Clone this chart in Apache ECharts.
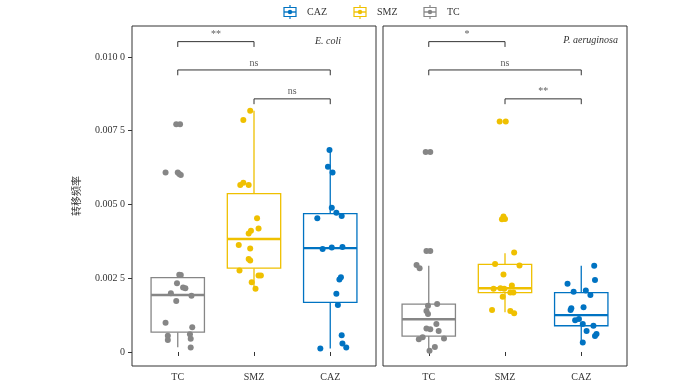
<!DOCTYPE html>
<html><head><meta charset="utf-8">
<script src="https://cdn.jsdelivr.net/npm/echarts@6/dist/echarts.min.js"></script>
<style>html,body{margin:0;padding:0;background:#fff}#c{width:700px;height:383px}</style>
</head><body><div id="c"></div>
<script>
// ---------- data ----------
const groups = ['TC', 'SMZ', 'CAZ'];
const legendOrder = ['CAZ', 'SMZ', 'TC'];
const colors = { TC: '#868686', SMZ: '#EFC000', CAZ: '#0073C2' };
const panelTitles = ['E. coli', 'P. aeruginosa'];
const yTicks = [0, 0.0025, 0.005, 0.0075, 0.01];
const yTickLabels = ['0', '0.002 5', '0.005 0', '0.007 5', '0.010 0'];
const yTitle = '转移频率';

// E. coli – point values and horizontal jitter (category units)
const ecoliTC = [0.00772, 0.00772, 0.00608, 0.00608, 0.00600, 0.00603, 0.00261, 0.00262, 0.00233, 0.00219, 0.00216, 0.00199, 0.00191, 0.00173, 0.00099, 0.00084, 0.00055, 0.00041, 0.00060, 0.00045, 0.00015];
const ecoliTCJit = [-0.02, 0.03, -0.16, 0.0, 0.04, 0.02, 0.04, 0.02, -0.01, 0.07, 0.10, -0.09, 0.18, -0.02, -0.16, 0.19, -0.13, -0.13, 0.16, 0.17, 0.17];
const ecoliSMZ = [0.00818, 0.00786, 0.00566, 0.00574, 0.00566, 0.00453, 0.00419, 0.00411, 0.00402, 0.00363, 0.00351, 0.00315, 0.00310, 0.00276, 0.00259, 0.00259, 0.00236, 0.00214];
const ecoliSMZJit = [-0.05, -0.14, -0.18, -0.14, -0.07, 0.04, 0.06, -0.04, -0.07, -0.20, -0.05, -0.07, -0.05, -0.19, 0.06, 0.09, -0.03, 0.02];
const ecoliCAZ = [0.00685, 0.00628, 0.00608, 0.00489, 0.00472, 0.00461, 0.00453, 0.00349, 0.00354, 0.00356, 0.00253, 0.00246, 0.00197, 0.00159, 0.00057, 0.00029, 0.00015, 0.00012];
const ecoliCAZJit = [-0.01, -0.03, 0.03, 0.02, 0.08, 0.15, -0.17, -0.10, 0.02, 0.16, 0.14, 0.12, 0.08, 0.10, 0.15, 0.16, 0.21, -0.13];

// P. aeruginosa
const paeruTC = [0.00678, 0.00678, 0.00342, 0.00342, 0.00295, 0.00284, 0.00163, 0.00157, 0.00139, 0.00129, 0.00095, 0.00080, 0.00077, 0.00071, 0.00043, 0.00050, 0.00046, 0.00017, 0.00004];
const paeruTCJit = [-0.04, 0.02, -0.03, 0.02, -0.16, -0.12, 0.11, -0.01, -0.03, -0.01, 0.10, -0.03, 0.02, 0.13, -0.13, -0.08, 0.20, 0.08, 0.01];
const paeruSMZ = [0.00781, 0.00781, 0.00459, 0.00451, 0.00450, 0.00337, 0.00298, 0.00293, 0.00263, 0.00225, 0.00214, 0.00216, 0.00214, 0.00202, 0.00202, 0.00187, 0.00142, 0.00139, 0.00131];
const paeruSMZJit = [-0.07, 0.01, -0.02, 0.0, -0.04, 0.12, -0.13, 0.19, -0.02, 0.09, -0.15, -0.06, -0.01, 0.11, 0.07, -0.03, -0.17, 0.07, 0.12];
const paeruCAZ = [0.00292, 0.00231, 0.00244, 0.00204, 0.00208, 0.00193, 0.00152, 0.00142, 0.00148, 0.00108, 0.00112, 0.00095, 0.00071, 0.00089, 0.00054, 0.00061, 0.00032];
const paeruCAZJit = [0.17, -0.18, 0.18, -0.10, 0.06, 0.12, 0.03, -0.14, -0.13, -0.08, -0.03, 0.02, 0.07, 0.16, 0.18, 0.20, 0.02];

// box stats: [lower whisker, Q1, median, Q3, upper whisker]
const ecoliBoxTC = [0.00016, 0.00067, 0.00193, 0.00252, 0.00262];
const ecoliBoxSMZ = [0.00214, 0.00284, 0.00383, 0.00537, 0.00818];
const ecoliBoxCAZ = [0.00012, 0.00168, 0.00352, 0.00469, 0.00685];
const paeruBoxTC = [0.00007, 0.00054, 0.00111, 0.00162, 0.00292];
const paeruBoxSMZ = [0.00135, 0.00201, 0.00216, 0.00297, 0.00335];
const paeruBoxCAZ = [0.00030, 0.00089, 0.00125, 0.00201, 0.00292];

// significance comparisons: [group A, group B, label]
const ecoliComparisons = [['TC', 'SMZ', '**'], ['TC', 'CAZ', 'ns'], ['SMZ', 'CAZ', 'ns']];
const paeruComparisons = [['TC', 'SMZ', '*'], ['TC', 'CAZ', 'ns'], ['SMZ', 'CAZ', '**']];
const bracketLevels = [0.01052, 0.00956, 0.00858];
const bracketDrop = 0.00018;

// ---------- build ----------
const serif = 'Liberation Serif, Times New Roman, serif';
const txt = '#333';

const panelData = [
  { pts: { TC: [ecoliTC, ecoliTCJit], SMZ: [ecoliSMZ, ecoliSMZJit], CAZ: [ecoliCAZ, ecoliCAZJit] },
    box: { TC: ecoliBoxTC, SMZ: ecoliBoxSMZ, CAZ: ecoliBoxCAZ }, cmp: ecoliComparisons },
  { pts: { TC: [paeruTC, paeruTCJit], SMZ: [paeruSMZ, paeruSMZJit], CAZ: [paeruCAZ, paeruCAZJit] },
    box: { TC: paeruBoxTC, SMZ: paeruBoxSMZ, CAZ: paeruBoxCAZ }, cmp: paeruComparisons }
];

function renderBox(params, api) {
  const x = api.value(0);
  const lo = api.coord([x, api.value(1)]);
  const q1 = api.coord([x, api.value(2)]);
  const md = api.coord([x, api.value(3)]);
  const q3 = api.coord([x, api.value(4)]);
  const hi = api.coord([x, api.value(5)]);
  const w = api.size([0.7, 0])[0];
  const c = api.visual('color');
  return { type: 'group', children: [
    { type: 'line', shape: { x1: hi[0], y1: hi[1], x2: q3[0], y2: q3[1] }, style: { stroke: c, lineWidth: 1.3 } },
    { type: 'line', shape: { x1: q1[0], y1: q1[1], x2: lo[0], y2: lo[1] }, style: { stroke: c, lineWidth: 1.3 } },
    { type: 'rect', shape: { x: q3[0] - w / 2, y: q3[1], width: w, height: q1[1] - q3[1] }, style: { fill: '#fff', stroke: c, lineWidth: 1.3 } },
    { type: 'line', shape: { x1: md[0] - w / 2, y1: md[1], x2: md[0] + w / 2, y2: md[1] }, style: { stroke: c, lineWidth: 2.4 } }
  ] };
}

const series = [];
panelData.forEach((p, pi) => {
  groups.forEach((g, gi) => {
    const b = p.box[g];
    series.push({ type: 'custom', name: g + ' box', xAxisIndex: pi, yAxisIndex: pi, z: 2, silent: true,
      itemStyle: { color: colors[g] }, renderItem: renderBox,
      data: [[gi + 1, b[0], b[1], b[2], b[3], b[4]]] });
  });
  groups.forEach((g, gi) => {
    const [vals, jit] = p.pts[g];
    series.push({ type: 'scatter', name: g, xAxisIndex: pi, yAxisIndex: pi, z: 3, symbolSize: 6,
      itemStyle: { color: colors[g], opacity: 1 },
      data: vals.map((v, i) => [gi + 1 + jit[i], v]) });
  });
  p.cmp.forEach((c, ci) => {
    const a = groups.indexOf(c[0]) + 1, b = groups.indexOf(c[1]) + 1, y = bracketLevels[ci];
    series.push({ type: 'line', xAxisIndex: pi, yAxisIndex: pi, z: 4, silent: true, symbol: 'none',
      lineStyle: { color: '#333', width: 1 },
      data: [[a, y - bracketDrop], [a, y], [b, y], [b, y - bracketDrop]] });
    series.push({ type: 'scatter', xAxisIndex: pi, yAxisIndex: pi, z: 4, silent: true, symbolSize: 0,
      label: { show: true, position: 'top', distance: 2, formatter: c[2], fontFamily: serif, fontSize: 10, color: txt },
      data: [[(a + b) / 2, y]] });
  });
});

const grids = [
  { left: 132, top: 26, width: 244, height: 340 },
  { left: 383, top: 26, width: 244, height: 340 }
].map(g => Object.assign(g, { show: true, borderColor: '#333', borderWidth: 1, backgroundColor: 'transparent' }));

const xAxes = [0, 1].map(i => ({
  type: 'value', gridIndex: i, min: 0.4, max: 3.6,
  axisLine: { show: false }, splitLine: { show: false },
  axisTick: { show: true, length: 4, customValues: [1, 2, 3], lineStyle: { color: '#333' } },
  axisLabel: { show: true, customValues: [1, 2, 3], margin: 6, formatter: v => groups[Math.round(v) - 1],
    fontFamily: serif, fontSize: 10, color: txt }
}));

const yAxes = [0, 1].map(i => ({
  type: 'value', gridIndex: i, min: -0.000475, max: 0.01105,
  name: i === 0 ? yTitle : '', nameLocation: 'middle', nameGap: 51, nameRotate: 90,
  nameTextStyle: { fontFamily: 'Noto Sans CJK SC', fontSize: 10, color: txt },
  axisLine: { show: false }, splitLine: { show: false },
  axisTick: { show: i === 0, length: 4, customValues: yTicks, lineStyle: { color: '#333' } },
  axisLabel: { show: i === 0, customValues: yTicks, margin: 7,
    formatter: v => { const k = yTicks.findIndex(t => Math.abs(t - v) < 1e-9); return k >= 0 ? yTickLabels[k] : ''; },
    fontFamily: serif, fontSize: 10, color: txt }
}));

const graphic = [];
legendOrder.forEach((g, i) => {
  const cx = 290 + i * 70, cy = 12, c = colors[g];
  graphic.push({ type: 'line', shape: { x1: cx, y1: 5, x2: cx, y2: 19 }, style: { stroke: c, lineWidth: 1.2 } });
  graphic.push({ type: 'rect', shape: { x: cx - 6, y: 7.5, width: 12, height: 9 }, style: { fill: '#fff', stroke: c, lineWidth: 1.2 } });
  graphic.push({ type: 'line', shape: { x1: cx - 6, y1: cy, x2: cx + 6, y2: cy }, style: { stroke: c, lineWidth: 1.4 } });
  graphic.push({ type: 'circle', shape: { cx: cx, cy: cy, r: 2.2 }, style: { fill: c } });
  graphic.push({ type: 'text', x: cx + 17, y: cy, style: { text: g, fontFamily: serif, fontSize: 10, fill: txt, verticalAlign: 'middle', align: 'left' } });
});
graphic.push({ type: 'text', x: 341, y: 41, style: { text: panelTitles[0], fontFamily: serif, fontStyle: 'italic', fontSize: 10, fill: txt, align: 'right', verticalAlign: 'middle' } });
graphic.push({ type: 'text', x: 618, y: 40, style: { text: panelTitles[1], fontFamily: serif, fontStyle: 'italic', fontSize: 10, fill: txt, align: 'right', verticalAlign: 'middle' } });

const chart = echarts.init(document.getElementById('c'), null, { renderer: 'canvas' });
chart.setOption({
  animation: false,
  backgroundColor: '#fff',
  grid: grids, xAxis: xAxes, yAxis: yAxes, series: series, graphic: graphic
});
</script></body></html>
